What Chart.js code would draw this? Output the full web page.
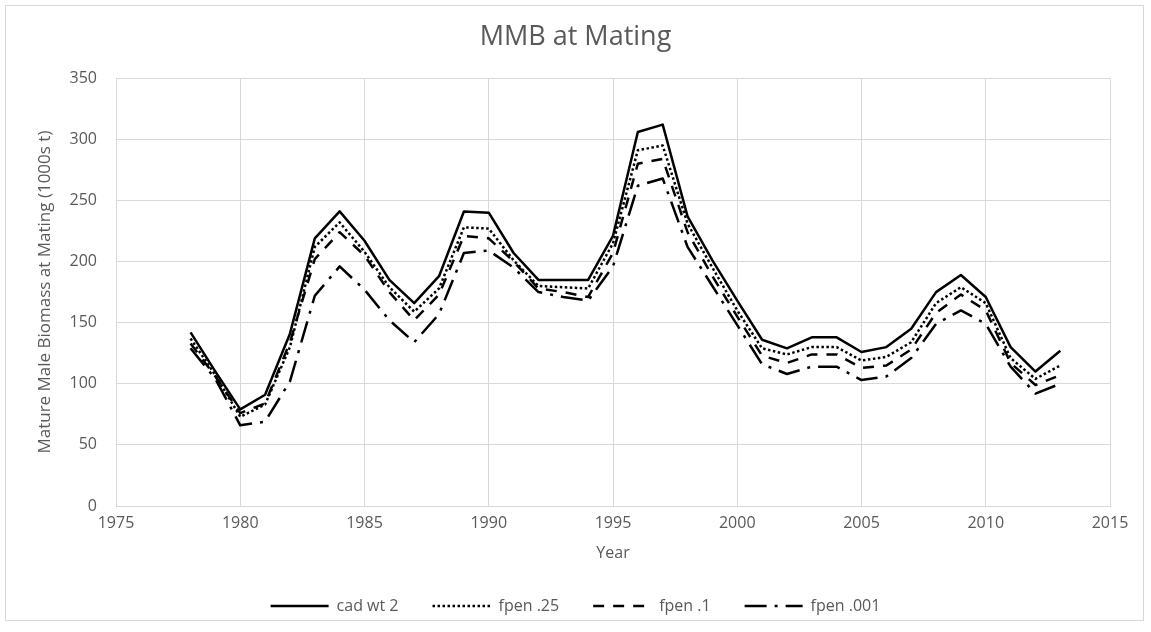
<!DOCTYPE html>
<html>
<head>
<meta charset="utf-8">
<title>MMB at Mating</title>
<script src="https://cdn.jsdelivr.net/npm/chart.js@4.4.1/dist/chart.umd.min.js"></script>
<style>
  html, body { margin: 0; padding: 0; background: #ffffff; }
  canvas { display: block; }
</style>
</head>
<body>
<canvas id="chart" width="1151" height="632"></canvas>
<script>
// Model years
const years = [1978, 1979, 1980, 1981, 1982, 1983, 1984, 1985, 1986, 1987, 1988, 1989,
               1990, 1991, 1992, 1993, 1994, 1995, 1996, 1997, 1998, 1999, 2000, 2001,
               2002, 2003, 2004, 2005, 2006, 2007, 2008, 2009, 2010, 2011, 2012, 2013];

// Mature male biomass at mating (1000s t) for each model run
const cadWt2  = [142, 110, 79, 91, 141, 219, 241, 217, 185, 166, 188, 241,
                 240, 207, 185, 185, 185, 221, 306, 312, 237, 201, 168, 136,
                 129, 138, 138, 126, 130, 145, 175, 189, 171, 130, 110, 127];
const fpen25  = [137, 107, 73, 83, 130, 212, 232, 208, 179, 159, 178, 228,
                 227, 201, 180, 179, 178, 215, 291, 295, 231, 195, 160, 129,
                 124, 130, 130, 119, 122, 134, 166, 179, 166, 121, 104, 115];
const fpen1   = [133, 106, 76, 84, 134, 202, 224, 205, 175, 152, 173, 221,
                 219, 200, 178, 175, 171, 207, 280, 284, 224, 188, 155, 123,
                 117, 124, 124, 113, 115, 128, 158, 173, 160, 117, 99, 107];
const fpen001 = [129, 104, 66, 69, 102, 172, 196, 177, 152, 134, 157, 207,
                 209, 195, 175, 171, 168, 196, 262, 268, 212, 180, 148, 116,
                 108, 114, 114, 103, 106, 121, 149, 160, 149, 114, 92, 100];

const seriesNames = ['cad wt 2', 'fpen .25', 'fpen .1', 'fpen .001'];
const xTicks = { min: 1975, max: 2015, step: 5 };
const yTicks = { min: 0, max: 350, step: 50 };

const TEXT = '#595959';
const GRID = '#d9d9d9';
const LINE_W = 2.5;

Chart.defaults.font.family = "'Open Sans', 'Noto Sans', sans-serif";
Chart.defaults.color = TEXT;

const toPoints = vals => years.map((yr, i) => ({ x: yr, y: vals[i] }));

function series(label, vals, dash) {
  return {
    label,
    data: toPoints(vals),
    borderColor: '#000000',
    backgroundColor: '#000000',
    borderWidth: LINE_W,
    borderDash: dash,
    borderJoinStyle: 'round',
    borderCapStyle: 'butt',
    tension: 0,
    pointRadius: 0,
    pointHoverRadius: 0,
    pointStyle: 'line',
    fill: false
  };
}

// Legend entries drawn as short line samples carrying each series' dash pattern
function lineLegendLabels(chart) {
  const items = Chart.defaults.plugins.legend.labels.generateLabels(chart);
  items.forEach(item => {
    const ds = chart.data.datasets[item.datasetIndex];
    item.pointStyle = 'line';
    item.lineDash = ds.borderDash;
    item.lineWidth = ds.borderWidth;
    item.strokeStyle = ds.borderColor;
    item.fillStyle = ds.borderColor;
    item.lineCap = 'butt';
  });
  return items;
}

// Light frame around the whole chart area
const framePlugin = {
  id: 'frame',
  beforeDraw(chart) {
    const ctx = chart.ctx;
    ctx.save();
    ctx.fillStyle = '#ffffff';
    ctx.fillRect(0, 0, chart.width, chart.height);
    ctx.strokeStyle = GRID;
    ctx.lineWidth = 1;
    ctx.strokeRect(5.5, 5.5, 1138, 615);
    ctx.restore();
  }
};

new Chart(document.getElementById('chart'), {
  type: 'line',
  data: {
    datasets: [
      series(seriesNames[0], cadWt2, []),
      series(seriesNames[1], fpen25, [2.5, 2.5]),
      series(seriesNames[2], fpen1, [11, 9]),
      series(seriesNames[3], fpen001, [22, 8, 3, 8])
    ]
  },
  options: {
    responsive: false,
    animation: false,
    events: [],
    layout: { padding: { left: 5, right: 5, top: 0, bottom: 8 } },
    scales: {
      x: {
        type: 'linear',
        min: xTicks.min,
        max: xTicks.max,
        ticks: {
          stepSize: xTicks.step,
          padding: 8,
          color: TEXT,
          font: { size: 16 },
          callback: v => String(v)
        },
        grid: { color: GRID, lineWidth: 1, drawTicks: false },
        border: { color: GRID, width: 1 },
        title: {
          display: true,
          text: 'Year',
          color: TEXT,
          font: { size: 16 },
          padding: { top: 10, bottom: 1.4 }
        },
        afterFit: s => { s.height = 58; }
      },
      y: {
        min: yTicks.min,
        max: yTicks.max,
        ticks: {
          stepSize: yTicks.step,
          padding: 19,
          color: TEXT,
          font: { size: 16 }
        },
        grid: { color: GRID, lineWidth: 1, drawTicks: false },
        border: { color: GRID, width: 1 },
        title: {
          display: true,
          text: 'Mature Male Biomass at Mating (1000s t)',
          color: TEXT,
          font: { size: 17 },
          padding: { top: 29.8, bottom: 0 }
        },
        afterFit: s => { s.width = 111; }
      },
      // empty right-hand gutter so the plot stops short of the frame
      gutter: {
        position: 'right',
        display: true,
        ticks: { display: false },
        grid: { display: false },
        border: { display: false },
        afterFit: s => { s.width = 36; }
      }
    },
    plugins: {
      title: {
        display: true,
        text: 'MMB at Mating',
        color: TEXT,
        font: { size: 27, weight: 'normal' },
        padding: { top: 20.8, bottom: 25 }
      },
      legend: {
        position: 'bottom',
        labels: {
          usePointStyle: true,
          pointStyle: 'line',
          pointStyleWidth: 58,
          padding: 34,
          color: TEXT,
          font: { size: 16 },
          generateLabels: lineLegendLabels
        }
      },
      tooltip: { enabled: false }
    }
  },
  plugins: [framePlugin]
});
</script>
</body>
</html>
